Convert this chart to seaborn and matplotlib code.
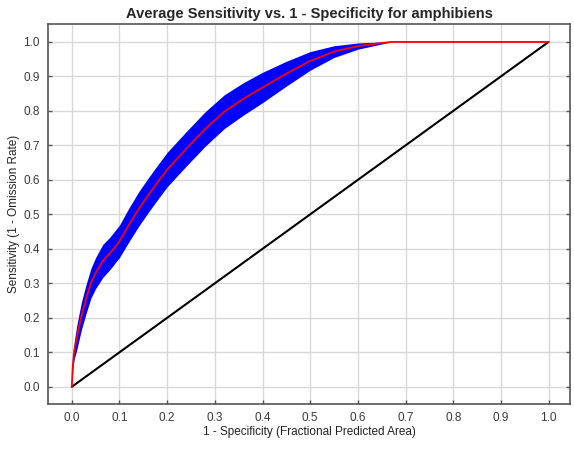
import numpy as np
import pandas as pd
import matplotlib
matplotlib.use("Agg")
import matplotlib.pyplot as plt
import seaborn as sns

# ROC for amphibiens
fpr = [0.0, 0.002, 0.005, 0.01, 0.02, 0.03, 0.04, 0.05, 0.065, 0.08,
       0.1, 0.12, 0.14, 0.16, 0.18, 0.2, 0.24, 0.28, 0.32, 0.36,
       0.4, 0.45, 0.5, 0.55, 0.6, 0.65, 0.67, 0.7, 0.8, 0.9, 1.0]
sens_mean = [0.0, 0.06, 0.105, 0.14, 0.205, 0.255, 0.3, 0.33, 0.365, 0.387,
             0.422, 0.47, 0.515, 0.555, 0.593, 0.63, 0.69, 0.748, 0.798, 0.835,
             0.868, 0.908, 0.945, 0.972, 0.988, 0.997, 1.0, 1.0, 1.0, 1.0, 1.0]
sens_sd = [0.0, 0.01, 0.025, 0.035, 0.04, 0.042, 0.043, 0.045, 0.048, 0.047,
           0.047, 0.049, 0.05, 0.05, 0.05, 0.05, 0.05, 0.05, 0.049, 0.047,
           0.044, 0.036, 0.027, 0.017, 0.009, 0.003, 0.0, 0.0, 0.0, 0.0, 0.0]
random_x = [0.0, 1.0]
random_y = [0.0, 1.0]

title = "Average Sensitivity vs. 1 - Specificity for amphibiens"
xlabel = "1 - Specificity (Fractional Predicted Area)"
ylabel = "Sensitivity (1 - Omission Rate)"
ticks = [i / 10 for i in range(11)]

sns.set_theme(style="whitegrid")
plt.rcParams["font.family"] = ["Liberation Sans", "DejaVu Sans"]

df = pd.DataFrame({"fpr": fpr, "mean": sens_mean, "sd": sens_sd})
df["lo"] = (df["mean"] - df["sd"]).clip(lower=0)
df["hi"] = (df["mean"] + df["sd"]).clip(upper=1)

fig = plt.figure(figsize=(5.74, 4.49), dpi=100)
ax = fig.add_axes([0.0836, 0.1002, 0.9094, 0.8463])

ax.fill_between(df["fpr"], df["lo"], df["hi"], color="#0000ff", lw=0,
                zorder=2)
sns.lineplot(data=df, x="fpr", y="mean", color="#ff0000", lw=1.3, ax=ax,
             zorder=4, estimator=None)
sns.lineplot(x=random_x, y=random_y, color="black", lw=1.5, ax=ax, zorder=3,
             estimator=None)

ax.set_xlim(-0.05, 1.045)
ax.set_ylim(-0.05, 1.052)
ax.set_xticks(ticks)
ax.set_yticks(ticks)
ax.set_xticklabels([f"{t:.1f}" for t in ticks])
ax.set_yticklabels([f"{t:.1f}" for t in ticks])

ax.grid(True, color="#d8d8d8", lw=1.0)
ax.set_facecolor("white")
for s in ax.spines.values():
    s.set_color("#555555")
    s.set_linewidth(1.2)

ax.tick_params(axis="both", direction="in", length=3, width=1,
               color="#555555", labelsize=8.5, labelcolor="#3a3a3a", pad=6,
               bottom=True, left=True, right=True)

ax.set_title(title, fontsize=10.5, fontweight="bold", pad=4)
ax.set_xlabel(xlabel, fontsize=8.5, color="#222222", labelpad=1)
ax.set_ylabel(ylabel, fontsize=8.5, color="#222222", labelpad=2)

fig.savefig("out.png", dpi=100, facecolor="white")
